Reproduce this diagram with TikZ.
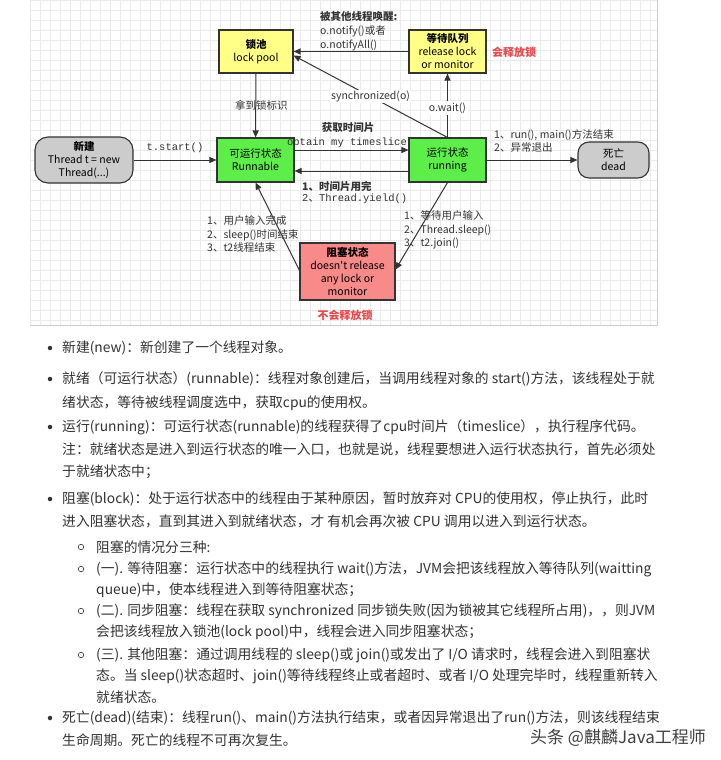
\documentclass[tikz,border=0pt]{standalone}
\usepackage{fontspec}
\setmainfont{Noto Sans CJK SC}
\setmonofont{Liberation Mono}
\newfontfamily\plaincjk{Noto Sans CJK SC}
\usetikzlibrary{arrows.meta}

\definecolor{poolyellow}{HTML}{FFFF88}
\definecolor{stategreen}{HTML}{5EEE4A}
\definecolor{blockred}{HTML}{F98A8A}
\definecolor{endgray}{HTML}{CCCCCC}
\definecolor{linegray}{HTML}{333333}
\definecolor{notered}{HTML}{E5484D}
\definecolor{bodytext}{HTML}{333333}

\begin{document}
\begin{tikzpicture}[
  x=1pt, y=-1pt,
  >={Triangle[length=7pt,width=6pt]},
  state/.style={rectangle, draw=linegray, line width=1.1pt, align=center, font=\fontsize{10.5}{13}\selectfont, inner sep=1pt},
  endstate/.style={state, fill=endgray, rounded corners=13pt},
  trans/.style={->, draw=linegray, line width=1pt},
  lbl/.style={font=\fontsize{10.5}{13.5}\selectfont, align=left, inner sep=0pt, text=linegray},
  code/.style={font=\ttfamily\fontsize{10.5}{12}\selectfont, inner sep=0pt, text=linegray},
  note/.style={font=\bfseries\fontsize{11}{13}\selectfont, text=notered, inner sep=0pt},
  body/.style={anchor=west, inner sep=0pt, text=bodytext, font=\fontsize{13.8}{16}\selectfont},
  bulletdot/.style={circle, fill=bodytext, inner sep=0pt, minimum size=4.5pt},
  bulletring/.style={circle, draw=bodytext, line width=0.6pt, inner sep=0pt, minimum size=5.5pt},
  gridline/.style={draw=black!8, line width=0.5pt},
]
  \useasboundingbox[fill=white] (0,0) rectangle (720,760);

  % grid behind the state diagram
  \foreach \gx in {30,40,...,650}
    \draw[gridline] (\gx,0) -- (\gx,325);
  \foreach \gy in {0,10,...,320}
    \draw[gridline] (30,\gy) -- (657,\gy);
  \draw[black!20] (657,0) -- (657,325) -- (30,325);

  % states
  \node[state, fill=poolyellow, minimum width=74pt, minimum height=43pt] (lockpool) at (256,51.5) {\textbf{锁池}\\lock pool};
  \node[state, fill=poolyellow, minimum width=77pt, minimum height=43pt] (waitq) at (447.5,51.5) {\textbf{等待队列}\\release lock\\or monitor};
  \node[endstate, minimum width=98pt, minimum height=46pt] (newt) at (84,160) {\textbf{新建}\\Thread t = new\\Thread(...)};
  \node[state, fill=stategreen, minimum width=77pt, minimum height=44pt] (runnable) at (255.5,160) {可运行状态\\Runnable};
  \node[state, fill=stategreen, minimum width=77pt, minimum height=44pt] (running) at (447.5,160) {运行状态\\running};
  \node[endstate, minimum width=71pt, minimum height=36pt, rounded corners=11pt] (dead) at (613.5,160) {死亡\\dead};
  \node[state, fill=blockred, minimum width=95pt, minimum height=57pt] (block) at (347.5,271.5) {\textbf{阻塞状态}\\{\plaincjk doesn't release}\\any lock or\\monitor};

  \node[note, anchor=west] (relnote) at (492,52) {会释放锁};
  \node[note] (norelnote) at (345,315) {不会释放锁};

  % transitions
  \draw[trans] (newt) -- node[code, above=7pt] (tstart) {t.start()} (runnable);
  \draw[trans] (lockpool) -- node[lbl, xshift=5.5pt] (getlock) {拿到锁标识} (runnable);
  \draw[trans] (waitq) -- (lockpool);
  \draw[trans] (running.north) -- node[lbl, fill=white, inner sep=1pt, pos=0.5] (syncl) {synchronized(o)} ([yshift=-4pt]lockpool.east);
  \draw[trans] (running.north) -- node[lbl, fill=white, inner sep=1.5pt, pos=0.46] (owait) {o.wait()} (waitq);
  \draw[trans] ([yshift=10pt]runnable.east) -- ([yshift=10pt]running.west);
  \draw[trans] ([yshift=-11pt]running.west) -- ([yshift=-11pt]runnable.east);
  \draw[trans] (running) -- (dead);
  \draw[trans] (running.south) -- ([yshift=2pt]block.east);
  \draw[trans] ([yshift=1pt]block.west) -- (runnable.south);

  % transition labels
  \node[lbl, anchor=west, font=\bfseries\fontsize{10.5}{13.5}\selectfont] (wakeup) at (320,16) {被其他线程唤醒:};
  \node[lbl, anchor=west] (notify) at (320,31) {o.notify()或者};
  \node[lbl, anchor=west] (notifyall) at (320,45) {o.notifyAll()};
  \node[lbl, font=\bfseries\fontsize{10.5}{13.5}\selectfont] (slice) at (348,128) {获取时间片};
  \node[code] (obtain) at (347,143) {obtain my timeslice};
  \node[lbl, anchor=west, font=\bfseries\fontsize{10.5}{13.5}\selectfont] (sliceend) at (302,186) {1、时间片用完};
  \node[code, anchor=west] (yield) at (302,199) {2{\rmfamily 、}Thread.yield()};
  \node[lbl, anchor=west] (runend) at (494,135) {1、run(), main()方法结束};
  \node[lbl, anchor=west] (excexit) at (494,148) {2、异常退出};
  \node[lbl, anchor=west] (toblock) at (404,230) {1、等待用户输入\\2、Thread.sleep()\\3、t2.join()};
  \node[lbl, anchor=west] (fromblock) at (207,234) {1、用户输入完成\\2、sleep()时间结束\\3、t2线程结束};

  % notes below the diagram
  \foreach \by in {348,379,427,499,718}
    \node[bulletdot] (dot\by) at (50,\by) {};
  \foreach \by in {547,569,611,655}
    \node[bulletring] (ring\by) at (81,\by) {};

  \node[body] (b1) at (62,348) {新建(new)：新创建了一个线程对象。};
  \node[body] (b2) at (62,379) {就绪（可运行状态）(runnable)：线程对象创建后，当调用线程对象的 start()方法，该线程处于就};
  \node[body] (b2b) at (62,403) {绪状态，等待被线程调度选中，获取cpu的使用权。};
  \node[body] (b3) at (62,427) {运行(running)：可运行状态(runnable)的线程获得了cpu时间片（timeslice），执行程序代码。};
  \node[body] (b3b) at (62,449) {注：就绪状态是进入到运行状态的唯一入口，也就是说，线程要想进入运行状态执行，首先必须处};
  \node[body] (b3c) at (62,472) {于就绪状态中；};
  \node[body] (b4) at (62,499) {阻塞(block)：处于运行状态中的线程由于某种原因，暂时放弃对 CPU的使用权，停止执行，此时};
  \node[body] (b4b) at (62,521) {进入阻塞状态，直到其进入到就绪状态，才 有机会再次被 CPU 调用以进入到运行状态。};
  \node[body] (s1) at (96,547) {阻塞的情况分三种:};
  \node[body] (s2) at (96,569) {(一). 等待阻塞：运行状态中的线程执行 wait()方法，JVM会把该线程放入等待队列(waitting};
  \node[body] (s2b) at (96,590) {queue)中，使本线程进入到等待阻塞状态；};
  \node[body] (s3) at (96,611) {(二). 同步阻塞：线程在获取 synchronized 同步锁失败(因为锁被其它线程所占用)，，则JVM};
  \node[body] (s3b) at (96,632) {会把该线程放入锁池(lock pool)中，线程会进入同步阻塞状态；};
  \node[body] (s4) at (96,655) {(三). 其他阻塞：通过调用线程的 sleep()或 join()或发出了 I/O 请求时，线程会进入到阻塞状};
  \node[body] (s4b) at (96,676) {态。当 sleep()状态超时、join()等待线程终止或者超时、或者 I/O 处理完毕时，线程重新转入};
  \node[body] (s4c) at (96,697) {就绪状态。};
  \node[body] (b5) at (62,718) {死亡(dead)(结束)：线程run()、main()方法执行结束，或者因异常退出了run()方法，则该线程结束};
  \node[body] (b5b) at (62,740) {生命周期。死亡的线程不可再次复生。};

  \node[anchor=east, inner sep=0pt, text=black!75, font=\fontsize{17}{20}\selectfont] (mark) at (706,738) {头条 @麒麟Java工程师};
\end{tikzpicture}
\end{document}
